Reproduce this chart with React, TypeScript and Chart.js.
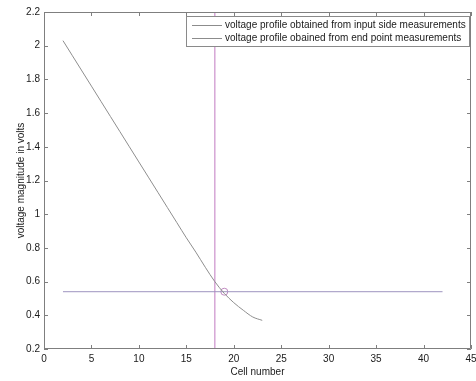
import React, { useEffect, useRef } from "react";
import { Chart, registerables } from "chart.js";

Chart.register(...registerables);

const cellNumbers = [2, 3, 4, 5, 6, 7, 8, 9, 10, 11, 12, 13, 14, 15, 16, 17, 18, 19, 20, 21, 22, 23];
const inputSideVoltages = [2.03, 1.94, 1.85, 1.76, 1.67, 1.58, 1.49, 1.4, 1.31, 1.22, 1.13, 1.04, 0.95, 0.86, 0.775, 0.685, 0.6, 0.53, 0.475, 0.43, 0.39, 0.37];
const endPointCells = [2, 42];
const endPointVoltage = 0.54;
const markerCell = 19;
const verticalCell = 18;
const legendLabels = [
  "voltage profile obtained from input side measurements",
  "voltage profile obained from end point measurements",
];
const xTicks = [0, 5, 10, 15, 20, 25, 30, 35, 40, 45];
const yMin = 0.2;
const yMax = 2.2;

const FONT = "'Liberation Sans', Arial, sans-serif";

const framePlugin = {
  id: "frame",
  afterDatasetsDraw(chart: any) {
    const { ctx, chartArea: a, scales } = chart;
    const xs = scales.x;
    const ys = scales.y;
    ctx.save();
    ctx.strokeStyle = "#7f7f7f";
    ctx.lineWidth = 1;
    ctx.beginPath();
    ctx.rect(a.left + 0.5, a.top + 0.5, a.right - a.left - 1, a.bottom - a.top - 1);
    ctx.stroke();
    const tl = 4;
    ctx.beginPath();
    for (const t of xTicks) {
      const px = Math.round(xs.getPixelForValue(t)) + 0.5;
      ctx.moveTo(px, a.bottom);
      ctx.lineTo(px, a.bottom - tl);
      ctx.moveTo(px, a.top);
      ctx.lineTo(px, a.top + tl);
    }
    for (let v = yMin; v <= yMax + 1e-9; v += 0.2) {
      const py = Math.round(ys.getPixelForValue(v)) + 0.5;
      ctx.moveTo(a.left, py);
      ctx.lineTo(a.left + tl, py);
      ctx.moveTo(a.right, py);
      ctx.lineTo(a.right - tl, py);
    }
    ctx.stroke();

    // legend
    const bx = a.right - 285;
    const by = a.top + 4;
    const bw = 283;
    const bh = 30;
    ctx.fillStyle = "#ffffff";
    ctx.fillRect(bx, by, bw, bh);
    ctx.strokeStyle = "#8a8a8a";
    ctx.strokeRect(bx + 0.5, by + 0.5, bw, bh);
    ctx.font = `10px ${FONT}`;
    ctx.textBaseline = "middle";
    ctx.textAlign = "left";
    const rows = [0, 1];
    rows.forEach((i) => {
      const ds = chart.data.datasets[i];
      const y = Math.round(by + 9 + i * 12.5) + 0.5;
      ctx.strokeStyle = "#8c8c8c";
      ctx.beginPath();
      ctx.moveTo(bx + 6, y);
      ctx.lineTo(bx + 36, y);
      ctx.stroke();
      ctx.fillStyle = "#1a1a1a";
      ctx.fillText(ds.label, bx + 39, y);
    });
    ctx.restore();
  },
};

export default function App() {
  const ref = useRef<HTMLCanvasElement>(null);
  useEffect(() => {
    if (!ref.current) return;
    const chart = new Chart(ref.current, {
      type: "scatter",
      data: {
        datasets: [
          {
            label: legendLabels[0],
            data: cellNumbers.map((c, i) => ({ x: c, y: inputSideVoltages[i] })),
            showLine: true,
            borderColor: "#8e8e8e",
            borderWidth: 1,
            pointRadius: 0,
            cubicInterpolationMode: "monotone",
          },
          {
            label: legendLabels[1],
            data: endPointCells.map((c) => ({ x: c, y: endPointVoltage })),
            showLine: true,
            borderColor: "#9d93bf",
            borderWidth: 1,
            pointRadius: 0,
          },
          {
            label: "cell",
            data: [
              { x: verticalCell, y: yMin },
              { x: verticalCell, y: yMax },
            ],
            showLine: true,
            borderColor: "#d6a6d6",
            borderWidth: 1.5,
            pointRadius: 0,
          },
          {
            label: "marker",
            data: [{ x: markerCell, y: endPointVoltage }],
            showLine: false,
            pointStyle: "circle",
            pointRadius: 3.5,
            borderColor: "#c08ac0",
            backgroundColor: "rgba(0,0,0,0)",
            borderWidth: 1,
          },
        ],
      } as any,
      options: {
        animation: false,
        responsive: false,
        devicePixelRatio: 1,
        layout: { padding: { top: 12, right: 3, left: 0, bottom: 0 } },
        plugins: { legend: { display: false }, tooltip: { enabled: false } },
        scales: {
          x: {
            type: "linear",
            min: 0,
            max: 45,
            afterBuildTicks: (s: any) => {
              s.ticks = xTicks.map((v) => ({ value: v }));
            },
            afterFit: (s: any) => {
              s.height = 32;
              s.paddingLeft = 0;
              s.paddingRight = 0;
            },
            grid: { display: false, drawTicks: false },
            border: { display: false },
            ticks: {
              padding: 4,
              color: "#1a1a1a",
              font: { family: FONT, size: 10 },
              maxRotation: 0,
              autoSkip: false,
            },
            title: {
              display: true,
              text: "Cell number",
              color: "#1a1a1a",
              font: { family: FONT, size: 10 },
              padding: { top: 0, bottom: 3 },
            },
          },
          y: {
            type: "linear",
            min: yMin,
            max: yMax,
            afterFit: (s: any) => {
              s.width = 44;
              s.paddingTop = 0;
              s.paddingBottom = 0;
            },
            grid: { display: false, drawTicks: false },
            border: { display: false },
            ticks: {
              stepSize: 0.2,
              padding: 4,
              color: "#1a1a1a",
              font: { family: FONT, size: 10 },
              callback: (v: any) => String(Number(Number(v).toFixed(1))),
            },
            title: {
              display: true,
              text: "voltage magnitude in volts",
              color: "#1a1a1a",
              font: { family: FONT, size: 10 },
              padding: { top: 15, bottom: 0 },
            },
          },
        },
      },
      plugins: [framePlugin],
    });
    return () => chart.destroy();
  }, []);
  return (
    <div style={{ position: "absolute", left: 0, top: 0, width: 476, height: 381, background: "#fff" }}>
      <canvas ref={ref} width={476} height={381} />
    </div>
  );
}
